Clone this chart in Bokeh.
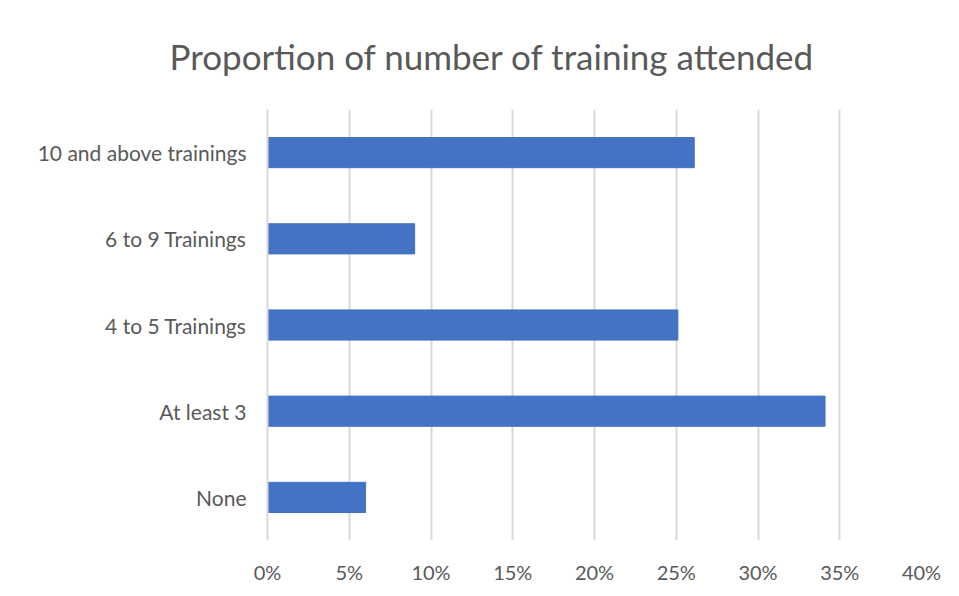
from bokeh.plotting import figure
from bokeh.models import FactorRange, Range1d, NumeralTickFormatter, FixedTicker, Title
from bokeh.embed import file_html
from bokeh.resources import INLINE

categories = ["None", "At least 3", "4 to 5 Trainings", "6 to 9 Trainings", "10 and above trainings"]
values = [0.06, 0.341, 0.251, 0.09, 0.261]
ticks = [0, 0.05, 0.10, 0.15, 0.20, 0.25, 0.30, 0.35, 0.40]

FONT = "Lato"
GREY = "#595959"

p = figure(width=943, height=586, output_backend="svg", toolbar_location=None,
           y_range=FactorRange(factors=categories, range_padding=0),
           x_range=Range1d(0, 0.40),
           min_border_left=267, min_border_right=22, min_border_top=30, min_border_bottom=36)

p.hbar(y=categories, right=values, left=0, height=0.35, fill_color="#4472C4", line_color="#4472C4")

t = Title(text="Proportion of number of training attended", align="left", offset=-98,
          text_font=FONT, text_font_size="35px", text_color=GREY, text_font_style="normal",
          standoff=65)
p.add_layout(t, "above")

p.xaxis.ticker = FixedTicker(ticks=ticks)
p.xaxis.formatter = NumeralTickFormatter(format="0%")
p.xaxis.axis_line_color = None
p.xaxis.major_tick_line_color = None
p.xaxis.minor_tick_line_color = None
p.xaxis.major_label_text_font = FONT
p.xaxis.major_label_text_font_size = "20px"
p.xaxis.major_label_text_color = GREY
p.xaxis.major_label_standoff = 13

p.yaxis.axis_line_color = "#d9d9d9"
p.yaxis.axis_line_width = 2
p.yaxis.major_tick_line_color = None
p.yaxis.minor_tick_line_color = None
p.yaxis.major_label_text_font = FONT
p.yaxis.major_label_text_font_size = "21px"
p.yaxis.major_label_text_color = GREY
p.yaxis.major_label_standoff = 15

p.xgrid.grid_line_color = "#d9d9d9"
p.xgrid.grid_line_width = 2
p.ygrid.grid_line_color = None
p.outline_line_color = None

open("out.html", "w").write(file_html(p, INLINE))
